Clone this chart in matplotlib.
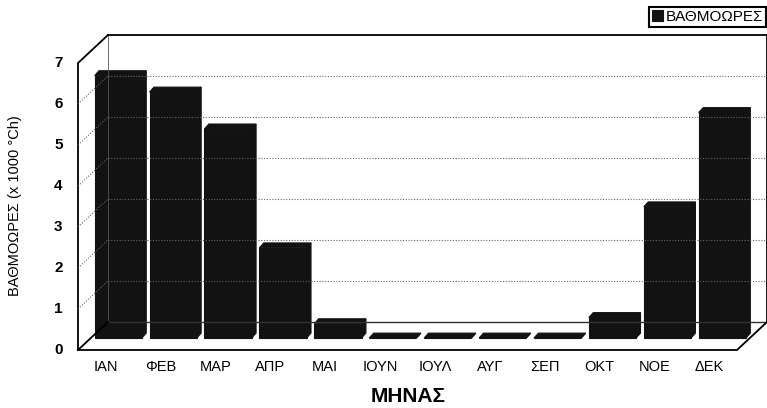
import matplotlib.pyplot as plt
import numpy as np

plt.rcParams['font.family'] = ['Liberation Sans', 'DejaVu Sans']

# data
months = ['ΙΑΝ', 'ΦΕΒ', 'ΜΑΡ', 'ΑΠΡ', 'ΜΑΙ', 'ΙΟΥΝ', 'ΙΟΥΛ', 'ΑΥΓ', 'ΣΕΠ', 'ΟΚΤ', 'ΝΟΕ', 'ΔΕΚ']
degree_hours = [6.4, 6.0, 5.1, 2.2, 0.35, 0.0, 0.0, 0.0, 0.0, 0.5, 3.2, 5.5]
yticks = [0, 1, 2, 3, 4, 5, 6, 7]

# fake 3d depth (data units)
dx, dy = 0.546, 0.683
ddx, ddy = 0.08, 0.12
w = 0.86
barcol = '#121212'

fig = plt.figure(figsize=(7.67, 4.08), dpi=100)
ax = fig.add_axes([78 / 767, 58 / 408, 659 / 767, 287 / 408])
ax.set_xlim(0, 12)
ax.set_ylim(0, 7)
ax.axis('off')

n = len(months)
# back wall, floor, side wall
ax.plot([dx, n + dx, n + dx], [7 + dy, 7 + dy, dy], color='black', lw=1.3, clip_on=False)
ax.plot([dx, dx], [dy, 7 + dy], color='#555555', lw=0.6, clip_on=False)
ax.plot([dx, n + dx], [dy, dy], color='#333333', lw=1.0, clip_on=False)
ax.plot([0, n, n + dx], [0, 0, dy], color='black', lw=1.3, clip_on=False)
ax.plot([0, 0, dx], [0, 7, 7 + dy], color='black', lw=1.3, clip_on=False)
ax.plot([0, dx], [0, dy], color='black', lw=1.3, clip_on=False)
for k in yticks[1:-1]:
    ax.plot([dx, n + dx], [k + dy, k + dy], color='#666666', lw=0.8, ls=(0, (1, 1.5)), clip_on=False)
    ax.plot([0, dx], [k, k + dy], color='#666666', lw=0.8, ls=(0, (1, 1.5)), clip_on=False)

# bars at mid depth
xs = np.arange(n) + (1 - w - ddx) / 2 + dx / 2
base = dy / 2 - 0.05
for x, v in zip(xs, degree_hours):
    ax.fill([x, x + ddx, x + w + ddx, x + w], [base + v, base + v + ddy, base + v + ddy, base + v],
            color=barcol, lw=0.8, ec=barcol, clip_on=False)
    ax.fill([x + w, x + w + ddx, x + w + ddx, x + w], [base, base + ddy, base + v + ddy, base + v],
            color=barcol, lw=0.8, ec=barcol, clip_on=False)
bars = ax.bar(xs, degree_hours, bottom=base, width=w, align='edge', color=barcol, ec=barcol, lw=0.8,
              clip_on=False, label='ΒΑΘΜΟΩΡΕΣ')

# tick labels
for k in yticks:
    ax.text(-0.28, k, str(k), ha='right', va='center', fontsize=11, fontweight='bold')
for i, m in enumerate(months):
    ax.text(i + 0.5, -0.42, m, ha='center', va='center', fontsize=10.5)

fig.text(408 / 767, 1 - 396 / 408, 'ΜΗΝΑΣ', ha='center', va='center', fontsize=15, fontweight='bold')
fig.text(15 / 767, 1 - 206 / 408, 'ΒΑΘΜΟΩΡΕΣ (x 1000 °Ch)', ha='center', va='center',
         rotation=90, fontsize=10.5)

# legend box
leg = fig.legend(handles=[bars], loc='upper right', bbox_to_anchor=(766 / 767, 1 - 7 / 408),
                 fontsize=11, handlelength=0.75, handleheight=0.7, handletextpad=0.15,
                 borderpad=0.2, borderaxespad=0, fancybox=False, framealpha=1)
leg.get_frame().set_edgecolor('black')
leg.get_frame().set_linewidth(1.5)

fig.savefig('out.png', dpi=100)
